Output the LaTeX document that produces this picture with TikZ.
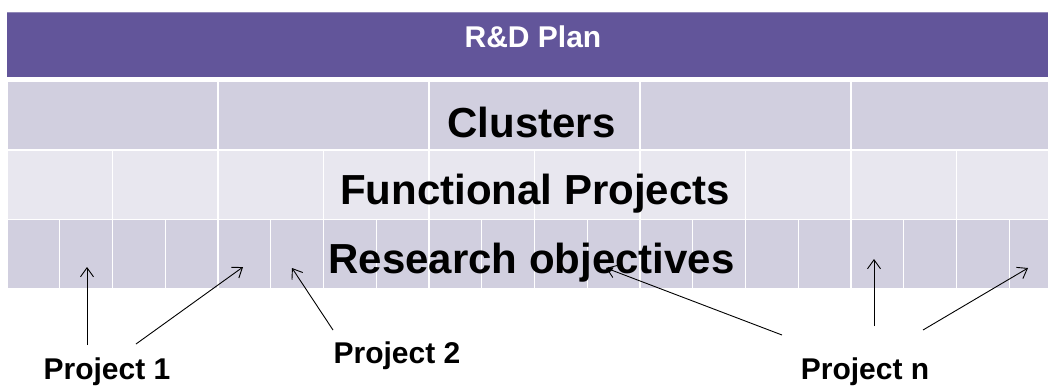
\documentclass[tikz,border=0pt]{standalone}
\usepackage{fontspec}
\setmainfont{Liberation Sans}
\usetikzlibrary{arrows.meta}
\definecolor{hdr}{RGB}{98,85,154}
\definecolor{cellA}{RGB}{209,207,223}
\definecolor{cellB}{RGB}{232,231,239}
\tikzset{
  cellstyle/.style={draw=white, line width=1.4pt},
  big/.style={font=\fontsize{42}{48}\selectfont\bfseries, inner sep=0pt, anchor=base},
  lbl/.style={font=\fontsize{30}{36}\selectfont\bfseries, inner sep=0pt, anchor=base},
  pointer/.style={draw=black, line width=0.9pt, -{Straight Barb[length=9pt,width=13pt]}},
}
\begin{document}
\begin{tikzpicture}[x=1pt,y=-1pt]
\useasboundingbox (0,0) rectangle (1048,389);
\begin{scope}
\clip (0,0) rectangle (1048,389);
\fill[hdr] (7,12) rectangle (1070,77);
\draw[hdr!70!white, line width=0.8pt] (7,12.4) -- (1070,12.4);
\foreach \i in {0,...,4}
  \filldraw[fill=cellA, cellstyle] ({7+\i*211},81.5) rectangle ({7+(\i+1)*211},150);
\foreach \i in {0,...,9}
  \filldraw[fill=cellB, cellstyle] ({7+\i*105.5},150) rectangle ({7+(\i+1)*105.5},219.5);
\foreach \i in {0,...,19}
  \filldraw[fill=cellA, cellstyle] ({7+\i*52.75},219.5) rectangle ({7+(\i+1)*52.75},289);
\end{scope}

\node[lbl, text=white] (plan) at (533,47) {R\&D Plan};
\node[big] (clusters) at (531.5,137) {Clusters};
\node[big] (functional) at (535,204) {Functional Projects};
\node[big] (research) at (531.5,273) {Research objectives};

\node[lbl] (p1) at (107,379) {Project 1};
\node[lbl] (p2) at (397,363) {Project 2};
\node[lbl] (pn) at (865,379) {Project n};

\coordinate (p1a) at (87,345);   \coordinate (t1a) at (87,267);
\coordinate (p1b) at (136,344);  \coordinate (t1b) at (243,267);
\coordinate (p2a) at (333,330);  \coordinate (t2a) at (292,268);
\coordinate (pna) at (782,335);  \coordinate (tna) at (606,268);
\coordinate (pnb) at (874,326);  \coordinate (tnb) at (874,259);
\coordinate (pnc) at (923,330);  \coordinate (tnc) at (1028,268);

\draw[pointer] (p1a) -- (t1a);
\draw[pointer] (p1b) -- (t1b);
\draw[pointer] (p2a) -- (t2a);
\draw[pointer] (pna) -- (tna);
\draw[pointer] (pnb) -- (tnb);
\draw[pointer] (pnc) -- (tnc);
\end{tikzpicture}
\end{document}
